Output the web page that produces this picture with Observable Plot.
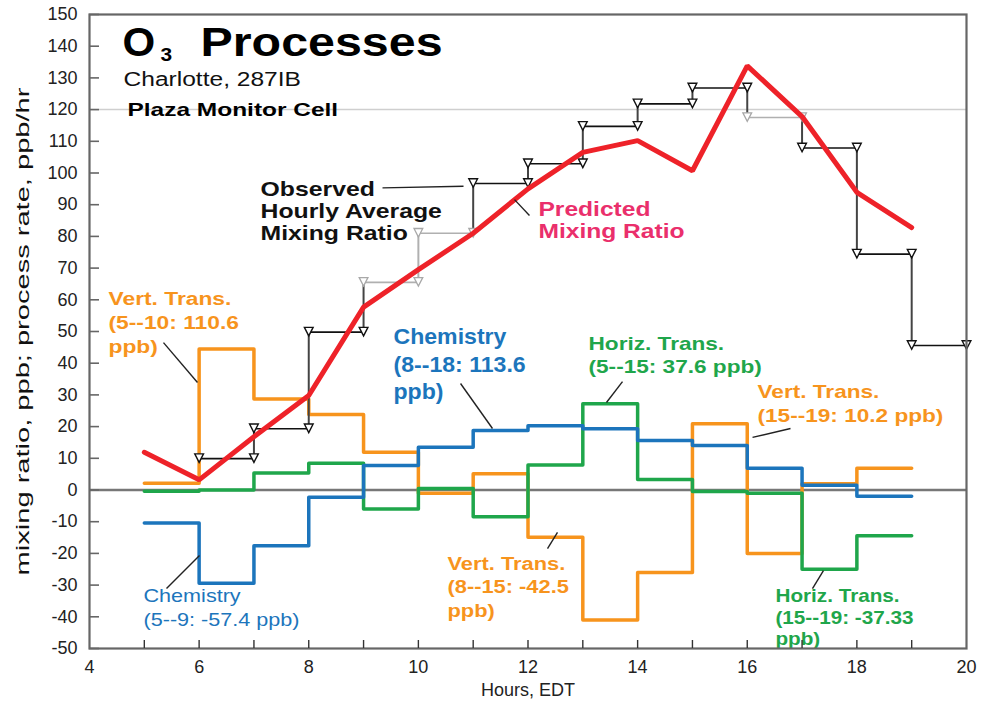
<!DOCTYPE html>
<html><head><meta charset="utf-8">
<script src="https://cdn.jsdelivr.net/npm/d3@7"></script>
<script src="https://cdn.jsdelivr.net/npm/@observablehq/plot@0.6"></script>
<style>body{margin:0;background:#fff;}</style>
</head><body><div id="chart"></div>
<script>
// ---------- data ----------
const processHours = [5,6,7,8,9,10,11,12,13,14,15,16,17,18];
const chemistry  = [-10.4,-29.4,-17.6,-2.3,7.7,13.5,18.8,20.3,19.3,15.6,14,6.9,1.5,-2];
const horizTrans = [-0.4,0,5.4,8.4,-6,0.5,-8.4,7.9,27.2,3.3,-0.5,-1,-25,-14.4];
const vertTrans  = [2.1,44.5,28.7,23.8,11.9,-1,5.1,-14.9,-41,-26,20.9,-20,2,6.9];
const predictedHours = [5,6,7,8,9,10,11,12,13,14,15,16,17,18,19];
const predicted = [11.9,3.2,16.8,29.8,57.7,69.5,81,95,106.5,110.2,100.7,133.8,117.8,93.9,82.8];
const observedHours = [6,7,8,9,10,11,12,13,14,15,16,17,18,19];
const observed = [9.9,19.3,49.8,65.5,81,96.7,102.9,114.7,121.8,126.8,117.5,107.9,74.4,45.6];
const observedGreyHours = [9,10,16];
const xTickLabels = [4,6,8,10,12,14,16,18,20];
const xMinorTicks = [5,6,7,8,9,10,11,12,13,14,15,16,17,18,19];
const yTickLabels = [-50,-40,-30,-20,-10,0,10,20,30,40,50,60,70,80,90,100,110,120,130,140,150];
const referenceLevel = [120];
const titleParts = ["O", "3", "Processes"];
const subtitle = "Charlotte, 287IB";
const cellName = "Plaza Monitor Cell";
const xLabel = "Hours, EDT";
const yLabel = "mixing ratio, ppb; process rate, ppb/hr";
const labelTexts = [
  "Observed\nHourly Average\nMixing Ratio",
  "Predicted\nMixing Ratio",
  "Vert. Trans.\n(5--10: 110.6\nppb)",
  "Chemistry\n(8--18: 113.6\nppb)",
  "Horiz. Trans.\n(5--15: 37.6 ppb)",
  "Vert. Trans.\n(15--19: 10.2 ppb)",
  "Chemistry\n(5--9: -57.4 ppb)",
  "Vert. Trans.\n(8--15: -42.5\nppb)",
  "Horiz. Trans.\n(15--19: -37.33\nppb)"
];

// ---------- layout / style ----------
const W = 984, H = 707, mL = 89, mR = 18, mT = 14, mB = 59;
const plotW = W - mL - mR, plotH = H - mT - mB;
const C = {orange: "#F7941D", green: "#1FA64B", blue: "#1C75BC", red: "#EE2229", pink: "#EA2F6C"};
const FONT = "'Liberation Sans', Arial, Helvetica, sans-serif";
// anchor = last-line baseline in (hour, value); sx = horizontal glyph stretch
const labelLayout = [
  {x: 7.12,  y: 79.0,  color: "#111",   fs: 20, lh: 1.1,   w: "bold",   sx: 1.24},
  {x: 12.19, y: 79.6,  color: C.pink,   fs: 20, lh: 1.1,   w: "bold",   sx: 1.23},
  {x: 4.347, y: 43.3,  color: C.orange, fs: 19, lh: 1.263, w: "bold",   sx: 1.2},
  {x: 9.546, y: 28.6,  color: C.blue,   fs: 22, lh: 1.25,  w: "bold",   sx: 1.05},
  {x: 13.104,y: 36.9,  color: C.green,  fs: 19, lh: 1.21,  w: "bold",   sx: 1.19},
  {x: 16.187,y: 21.4,  color: C.orange, fs: 19, lh: 1.263, w: "bold",   sx: 1.19},
  {x: 4.985, y: -43.0, color: C.blue,   fs: 18, lh: 1.333, w: "normal", sx: 1.2},
  {x: 10.531,y: -40.0, color: C.orange, fs: 19, lh: 1.237, w: "bold",   sx: 1.15},
  {x: 16.515,y: -48.9, color: C.green,  fs: 18, lh: 1.194, w: "bold",   sx: 1.15}
];
const leaders = [
  [9.346, 95.3, 10.823, 95.8],
  [11.754, 91.6, 12.027, 86.6],
  [5.35, 46.5, 5.97, 33.9],
  [10.769, 33.6, 11.352, 19.4],
  [13.724, 34.2, 13.432, 27.6],
  [16.789, 19.4, 16.096, 16.6],
  [5.405, -31.1, 6.007, -20.7],
  [12.356, -18.5, 12.538, -13.4],
  [17.19, -31.1, 17.39, -25.4]
].map(([x1,y1,x2,y2]) => ({x1,y1,x2,y2}));

// ---------- derived tables ----------
const stepSeries = vals => [
  ...processHours.map((h,i) => ({hour: h, value: vals[i]})),
  {hour: processHours[processHours.length-1] + 1, value: vals[vals.length-1]}
];
const pred = predictedHours.map((h,i) => ({hour: h, value: predicted[i]}));
const obs = observedHours.map((h,i) => ({hour: h, value: observed[i], grey: observedGreyHours.includes(h)}));
const obsVert = obs.slice(1).map((d,i) => ({hour: d.hour, from: obs[i].value, to: d.value, grey: d.grey && obs[i].grey}));
const obsEnds = obs.flatMap(d => [{hour: d.hour, value: d.value, grey: d.grey}, {hour: d.hour + 1, value: d.value, grey: d.grey}]);
const labels = labelTexts.map((t,i) => ({text: t, ...labelLayout[i]}));

// stretch table keyed by rendered text content
const stretch = new Map();
labels.forEach(d => stretch.set(d.text.replace(/\n/g, ""), d.sx));
stretch.set(titleParts[0], 1.05);
stretch.set(titleParts[1], 1.1);
stretch.set(titleParts[2], 1.21);
stretch.set(subtitle, 1.17);
stretch.set(cellName, 1.36);
stretch.set(yLabel, 1.53);

const downTriangle = {
  draw(ctx, size) {
    const r = Math.sqrt(size / Math.PI);
    const w = 1.15 * r, t = 1.25 * r, b = 1.0 * r;
    ctx.moveTo(-w, -t); ctx.lineTo(w, -t); ctx.lineTo(0, b); ctx.closePath();
  }
};

const textMarks = labels.map(d => Plot.text([d], {
  x: "x", y: "y", text: "text", fill: d.color, fontSize: d.fs, fontWeight: d.w,
  lineHeight: d.lh, textAnchor: "start", lineAnchor: "bottom"
}));

const chart = Plot.plot({
  width: W, height: H,
  marginLeft: mL, marginRight: mR, marginTop: mT, marginBottom: mB,
  x: {domain: [4, 20], axis: null},
  y: {domain: [-50, 150], axis: null},
  style: {fontFamily: FONT, background: "white", overflow: "visible"},
  marks: [
    Plot.ruleY(referenceLevel, {stroke: "#cfcfcf", strokeWidth: 1.5}),
    Plot.ruleY([0], {stroke: "#777", strokeWidth: 2.5}),
    Plot.line(stepSeries(vertTrans), {x: "hour", y: "value", curve: "step-after", stroke: C.orange, strokeWidth: 3.5}),
    Plot.line(stepSeries(horizTrans), {x: "hour", y: "value", curve: "step-after", stroke: C.green, strokeWidth: 3.5}),
    Plot.line(stepSeries(chemistry), {x: "hour", y: "value", curve: "step-after", stroke: C.blue, strokeWidth: 3.5}),
    // observed
    Plot.ruleX(obsVert, {x: "hour", y1: "from", y2: "to", stroke: d => d.grey ? "#b0b0b0" : "#444", strokeWidth: 2}),
    Plot.ruleY(obs, {y: "value", x1: "hour", x2: d => d.hour + 1, stroke: d => d.grey ? "#b0b0b0" : "#111", strokeWidth: 1.6}),
    Plot.dot(obsEnds.filter(d => d.grey), {x: "hour", y: "value", symbol: downTriangle, r: 3.8, fill: "white", stroke: "#a8a8a8", strokeWidth: 1.3}),
    Plot.dot(obsEnds.filter(d => !d.grey), {x: "hour", y: "value", symbol: downTriangle, r: 3.8, fill: "white", stroke: "#111", strokeWidth: 1.4}),
    // predicted
    Plot.line(pred, {x: "hour", y: "value", stroke: C.red, strokeWidth: 5, strokeLinejoin: "miter"}),
    // leaders
    Plot.link(leaders, {x1: "x1", y1: "y1", x2: "x2", y2: "y2", stroke: "#222", strokeWidth: 1.4}),
    ...textMarks,
    // frame & ticks
    Plot.frame({stroke: "#666", strokeWidth: 2.2}),
    Plot.tickY(yTickLabels, {y: d => d, insetRight: plotW - 10, stroke: "#666", strokeWidth: 1.6}),
    Plot.tickX(xMinorTicks, {x: d => d, insetTop: plotH - 8, stroke: "#333", strokeWidth: 1.4}),
    Plot.text(yTickLabels, {y: d => d, text: d => String(d), frameAnchor: "left", textAnchor: "end", dx: -12, fontSize: 18, fill: "#222"}),
    Plot.text(xTickLabels, {x: d => d, text: d => String(d), frameAnchor: "bottom", lineAnchor: "top", dy: 12, fontSize: 18, fill: "#222"}),
    Plot.text([xLabel], {text: d => d, frameAnchor: "bottom", textAnchor: "middle", lineAnchor: "middle", dy: 42, fontSize: 18, fill: "#222"}),
    Plot.text([yLabel], {text: d => d, frameAnchor: "left", textAnchor: "middle", lineAnchor: "middle", rotate: -90, dx: -67, fontSize: 19, fill: "#111"}),
    // title block
    Plot.text([titleParts[0]], {text: d => d, frameAnchor: "top-left", textAnchor: "start", lineAnchor: "bottom", dx: 33, dy: 41, fontSize: 40, fontWeight: "bold", fill: "#000"}),
    Plot.text([titleParts[1]], {text: d => d, frameAnchor: "top-left", textAnchor: "start", lineAnchor: "bottom", dx: 71, dy: 46, fontSize: 19, fontWeight: "bold", fill: "#000"}),
    Plot.text([titleParts[2]], {text: d => d, frameAnchor: "top-left", textAnchor: "start", lineAnchor: "bottom", dx: 111, dy: 41, fontSize: 40, fontWeight: "bold", fill: "#000"}),
    Plot.text([subtitle], {text: d => d, frameAnchor: "top-left", textAnchor: "start", lineAnchor: "bottom", dx: 34, dy: 71, fontSize: 21, fill: "#111"}),
    Plot.text([cellName], {text: d => d, frameAnchor: "top-left", textAnchor: "start", lineAnchor: "bottom", dx: 38, dy: 101, fontSize: 18, fontWeight: "bold", fill: "#000"})
  ]
});

// horizontal stretch of text glyphs to match the reference's wide lettering
chart.querySelectorAll("text").forEach(t => {
  const s = stretch.get(t.textContent);
  if (!s) return;
  const tr = t.getAttribute("transform");
  if (tr) t.setAttribute("transform", tr + ` scale(${s},1)`);
  else {
    const x = t.getAttribute("x");
    if (x != null && !isNaN(+x)) { t.setAttribute("x", 0); t.setAttribute("transform", `translate(${x},0) scale(${s},1)`); }
    else t.setAttribute("transform", `scale(${s},1)`);
  }
});
document.getElementById("chart").appendChild(chart);
</script>
</body></html>
